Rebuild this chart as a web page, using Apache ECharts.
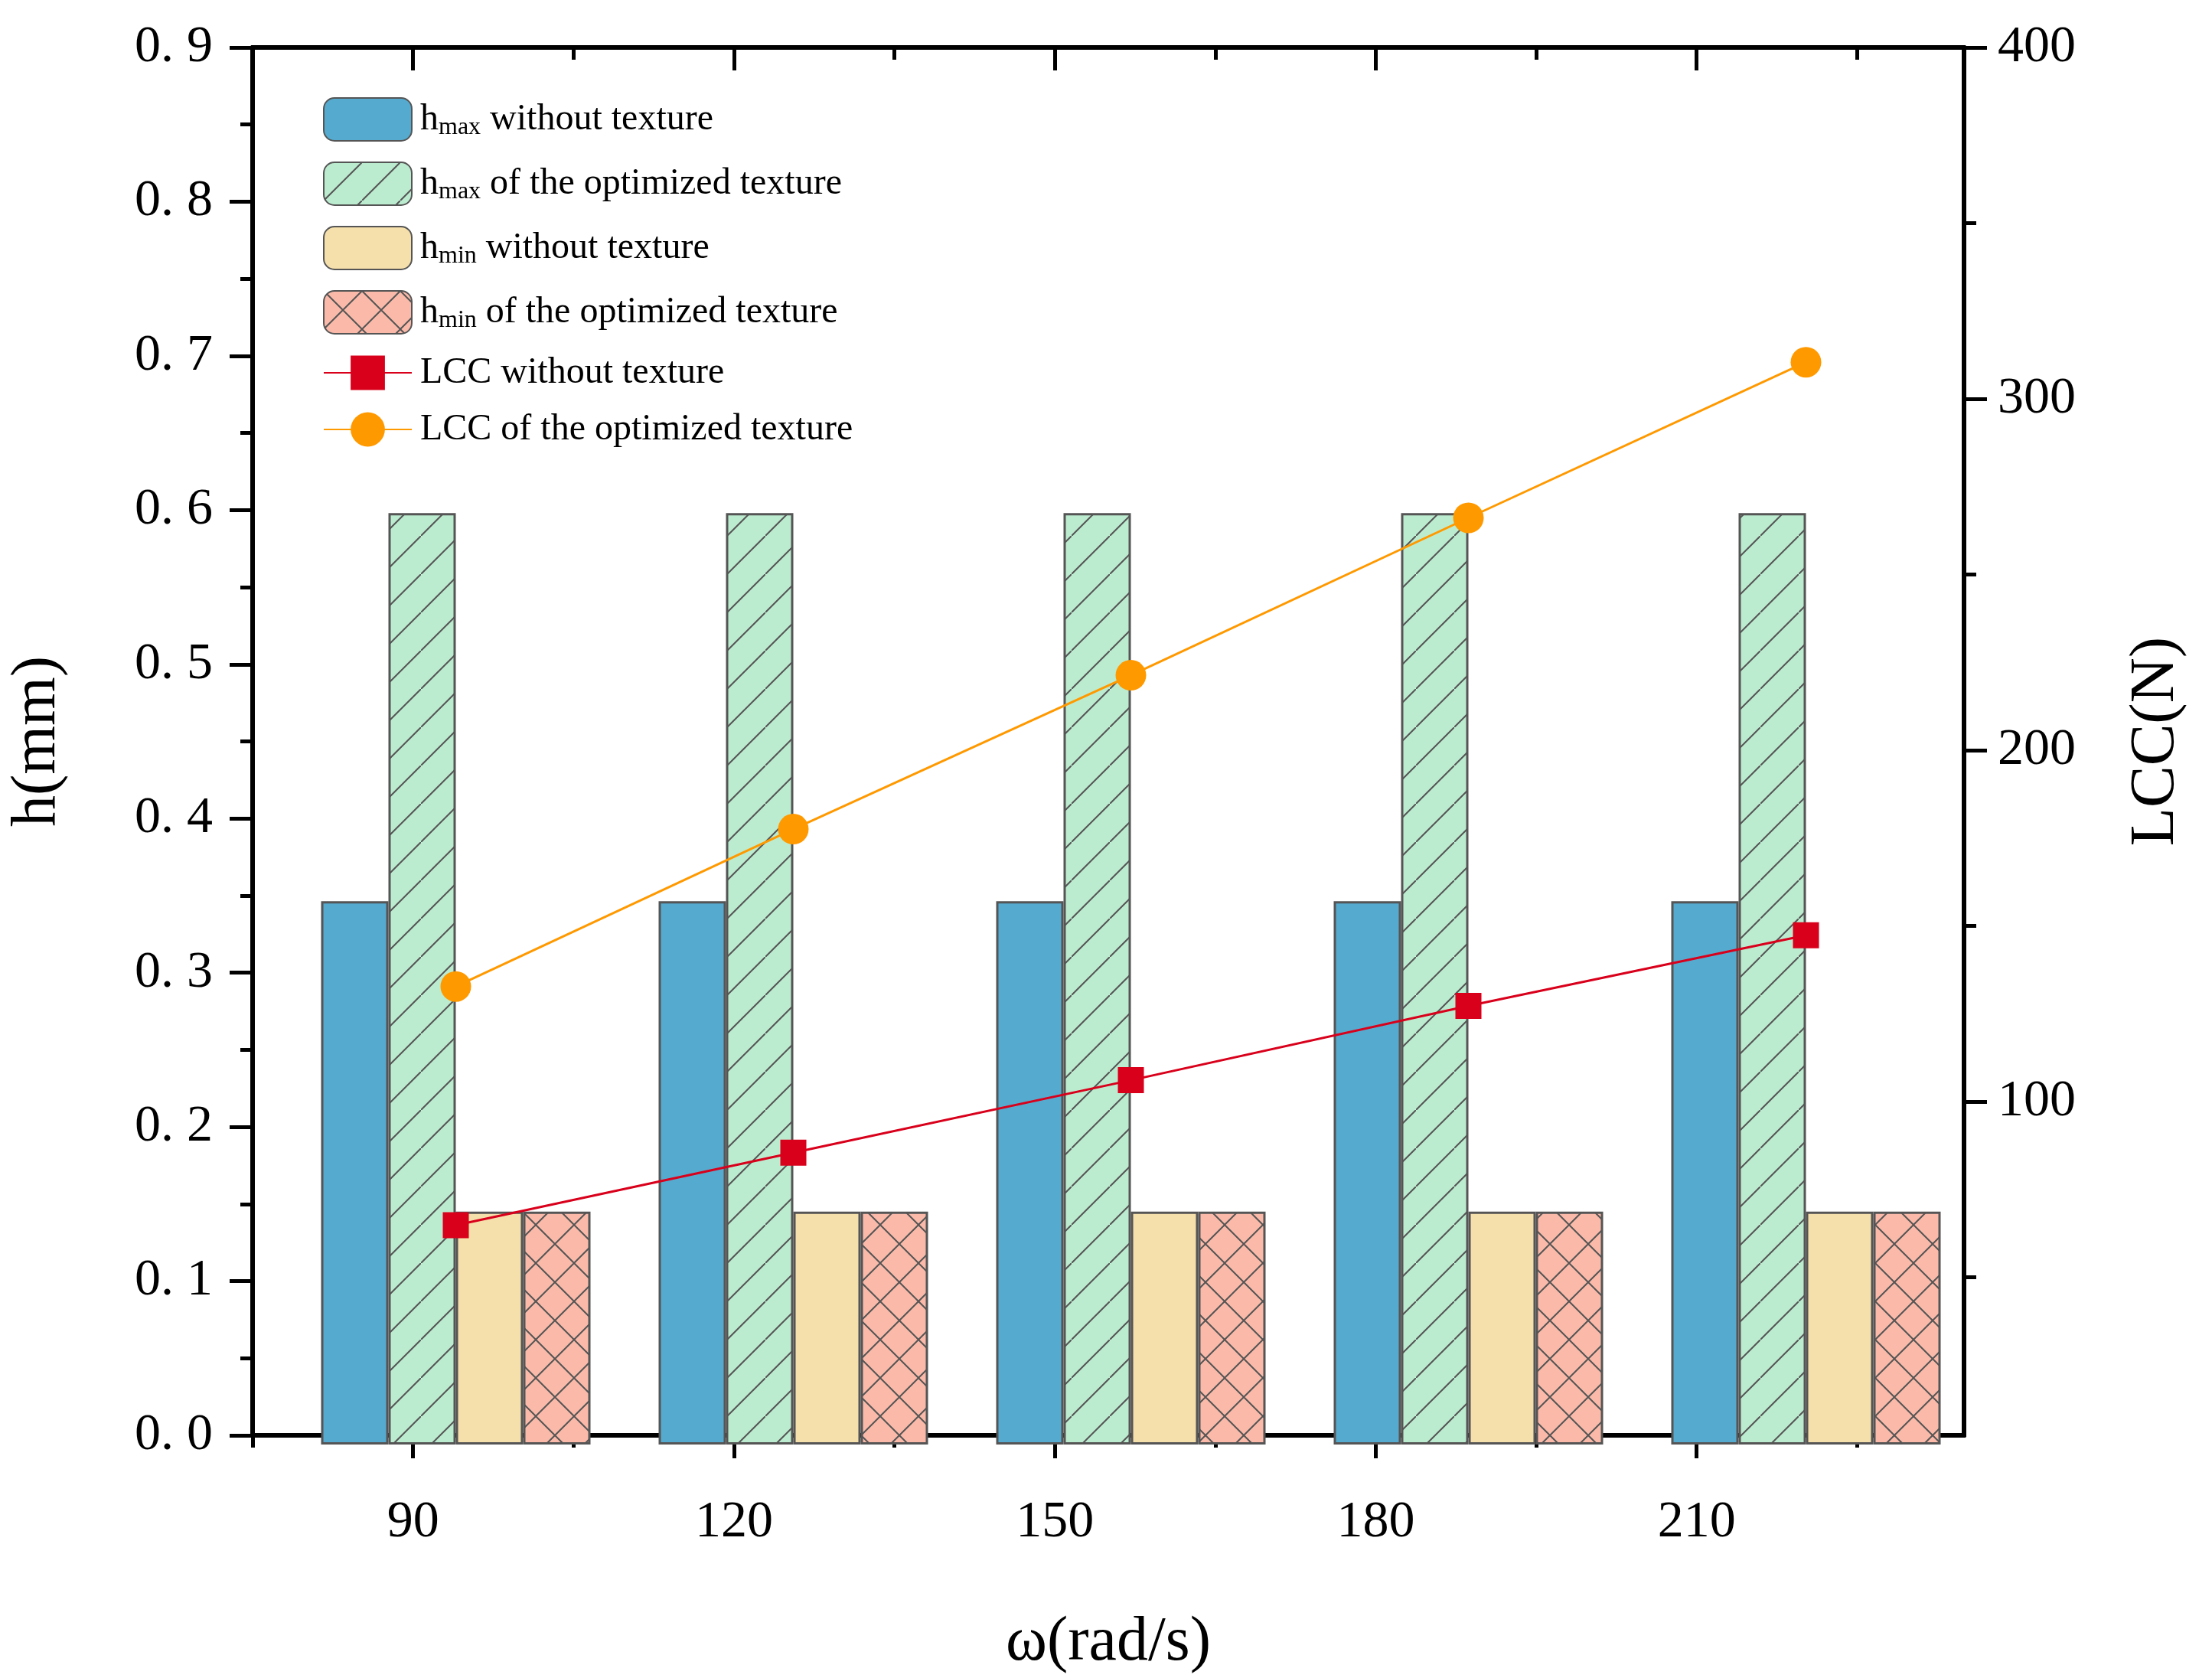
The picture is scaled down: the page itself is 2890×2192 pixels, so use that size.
<!DOCTYPE html>
<html>
<head>
<meta charset="utf-8">
<script src="https://cdn.jsdelivr.net/npm/echarts@6/dist/echarts.min.js"></script>
<style>html,body{margin:0;background:#fff}#chart{width:2890px;height:2192px}</style>
</head>
<body>
<div id="chart"></div>
<script>
const omega = ["90", "120", "150", "180", "210"];
const hmaxPlain = [0.35, 0.35, 0.35, 0.35, 0.35];
const hmaxTex = [0.6, 0.6, 0.6, 0.6, 0.6];
const hminPlain = [0.15, 0.15, 0.15, 0.15, 0.15];
const hminTex = [0.15, 0.15, 0.15, 0.15, 0.15];
const lccPlain = [67, 87.5, 108, 129, 149];
const lccTex = [134.5, 179, 222.5, 267, 311];
const xTicks = [90, 120, 150, 180, 210];
const xMinor = [75, 105, 135, 165, 195, 225];
const lccTicks = [100, 200, 300, 400];
const lccMinor = [50, 150, 250, 350];

const FONT = "Liberation Serif";
const chart = echarts.init(document.getElementById("chart"));

function pattern(cross) {
  const c = document.createElement("canvas");
  const s = 50;
  c.width = s; c.height = s;
  const g = c.getContext("2d");
  g.fillStyle = cross ? "#fbbaa9" : "#bcecd0";
  g.fillRect(0, 0, s, s);
  g.strokeStyle = "#555";
  g.lineWidth = 2;
  g.beginPath();
  g.moveTo(0, s); g.lineTo(s, 0);
  if (cross) { g.moveTo(0, 0); g.lineTo(s, s); }
  g.stroke();
  return { image: c, repeat: "repeat" };
}

function xAxisDef(pos, ticks, len, inside, labels) {
  return {
    type: "value", gridIndex: 0, position: pos, min: 75, max: 235,
    axisLine: { show: true, lineStyle: { color: "#000", width: 6 } },
    axisTick: { show: true, inside: inside, length: len, customValues: ticks, lineStyle: { color: "#000", width: 5 } },
    axisLabel: labels ? { customValues: xTicks, margin: 80, fontFamily: FONT, fontSize: 68, color: "#000" } : { show: false },
    splitLine: { show: false }
  };
}

function yAxisRight(ticks, len, labels) {
  return {
    type: "value", gridIndex: 0, position: "right", min: 5, max: 400,
    axisLine: { show: true, lineStyle: { color: "#000", width: 6 } },
    axisTick: { show: true, length: len, customValues: ticks, lineStyle: { color: "#000", width: 5 } },
    axisLabel: labels ? { customValues: lccTicks, margin: 44, fontFamily: FONT, fontSize: 68, color: "#000" } : { show: false },
    splitLine: { show: false }
  };
}

const border = { borderColor: "#555", borderWidth: 3 };
const legendRich = {
  n: { fontFamily: FONT, fontSize: 48, color: "#000" },
  s: { fontFamily: FONT, fontSize: 32, color: "#000", padding: [22, 0, 0, 0] }
};
const legendText = {
  a: "{n|h}{s|max}{n| without texture}",
  b: "{n|h}{s|max}{n| of the optimized texture}",
  c: "{n|h}{s|min}{n| without texture}",
  d: "{n|h}{s|min}{n| of the optimized texture}",
  e: "{n|LCC without texture}",
  f: "{n|LCC of the optimized texture}"
};

chart.setOption({
  animation: false,
  backgroundColor: "#fff",
  grid: [
    { left: 326, right: 324, top: 62, bottom: 305 },
    { left: 375, right: 310, top: 62, bottom: 305 }
  ],
  legend: {
    orient: "vertical", left: 417, top: 122, itemWidth: 115, itemHeight: 56, itemGap: 26,
    data: ["a", "b", "c", "d", "e", "f"],
    formatter: (n) => legendText[n],
    textStyle: { rich: legendRich, padding: [0, 0, 0, 6] }
  },
  xAxis: [
    Object.assign(xAxisDef("bottom", xTicks, 30, false, true), {
      name: "ω(rad/s)", nameLocation: "middle", nameGap: 230,
      nameTextStyle: { fontFamily: FONT, fontSize: 82, color: "#000" }
    }),
    xAxisDef("bottom", xMinor, 16, false, false),
    xAxisDef("top", xTicks, 30, true, false),
    xAxisDef("top", xMinor, 16, true, false),
    { type: "category", gridIndex: 1, data: omega, show: false }
  ],
  yAxis: [
    {
      type: "value", gridIndex: 0, position: "left", min: 0, max: 0.9, interval: 0.1,
      name: "h(mm)", nameLocation: "middle", nameGap: 240,
      nameTextStyle: { fontFamily: FONT, fontSize: 82, color: "#000" },
      axisLine: { show: true, lineStyle: { color: "#000", width: 6 } },
      axisTick: { show: true, length: 30, lineStyle: { color: "#000", width: 5 } },
      minorTick: { show: true, splitNumber: 2, length: 16, lineStyle: { color: "#000", width: 5 } },
      axisLabel: { margin: 52, fontFamily: FONT, fontSize: 68, color: "#000", formatter: (v) => v.toFixed(1).replace(".", ". ") },
      splitLine: { show: false }
    },
    Object.assign(yAxisRight(lccTicks, 30, true), {
      name: "LCC(N)", nameLocation: "middle", nameGap: 210, nameRotate: 90,
      nameTextStyle: { fontFamily: FONT, fontSize: 82, color: "#000" }
    }),
    yAxisRight(lccMinor, 16, false),
    { type: "value", gridIndex: 1, min: 0, max: 0.9, show: false },
    { type: "value", gridIndex: 1, min: 5, max: 400, show: false }
  ],
  series: [
    { name: "a", type: "bar", xAxisIndex: 4, yAxisIndex: 3, data: hmaxPlain, barWidth: 88, barGap: "0%",
      itemStyle: Object.assign({ color: "#55abcf" }, border) },
    { name: "b", type: "bar", xAxisIndex: 4, yAxisIndex: 3, data: hmaxTex, barWidth: 88, barGap: "0%",
      itemStyle: Object.assign({ color: pattern(false) }, border) },
    { name: "c", type: "bar", xAxisIndex: 4, yAxisIndex: 3, data: hminPlain, barWidth: 88, barGap: "0%",
      itemStyle: Object.assign({ color: "#f5dfaa" }, border) },
    { name: "d", type: "bar", xAxisIndex: 4, yAxisIndex: 3, data: hminTex, barWidth: 88, barGap: "0%",
      itemStyle: Object.assign({ color: pattern(true) }, border) },
    { name: "e", type: "line", xAxisIndex: 4, yAxisIndex: 4, data: lccPlain, symbol: "rect", symbolSize: 34,
      lineStyle: { color: "#d9001b", width: 3 }, itemStyle: { color: "#d9001b" }, z: 5 },
    { name: "f", type: "line", xAxisIndex: 4, yAxisIndex: 4, data: lccTex, symbol: "circle", symbolSize: 40,
      lineStyle: { color: "#ff9900", width: 3 }, itemStyle: { color: "#ff9900" }, z: 5 }
  ]
});
</script>
</body>
</html>
